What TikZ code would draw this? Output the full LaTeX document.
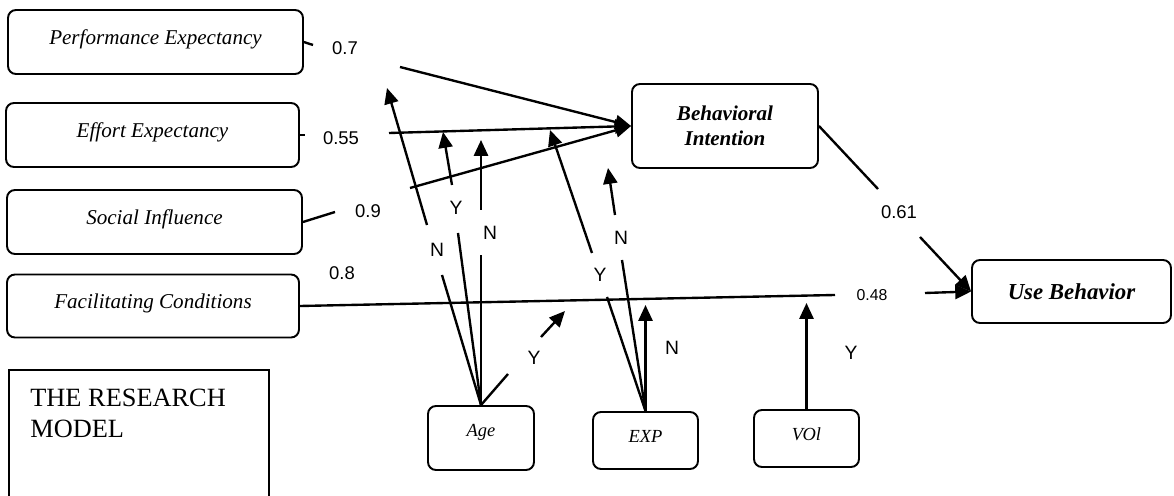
\documentclass[tikz,border=0pt]{standalone}
\usepackage{fontspec}
\setmainfont{Liberation Serif}
\newfontfamily\arialfont{Liberation Sans}
\usetikzlibrary{arrows.meta}
\tikzset{
    box/.style={draw, line width=1.1pt, rounded corners=4.5pt, align=center, inner sep=2pt},
    cbox/.style={box, minimum height=1.28cm, text height=8.5pt, text depth=5.6pt, font=\itshape\fontsize{12}{14}\selectfont},
    mbox/.style={box, minimum width=2.1cm, minimum height=1.14cm, text height=7.5pt, text depth=5pt, font=\itshape\fontsize{10.5}{12}\selectfont},
    lnk/.style={line width=1.35pt},
    arr/.style={lnk, -{Triangle[length=9pt,width=8pt]}},
    yn/.style={font=\arialfont\fontsize{11}{13}\selectfont, inner sep=0pt},
    wt/.style={font=\arialfont\fontsize{10.5}{12}\selectfont, inner sep=0pt},
}
\begin{document}
\begin{tikzpicture}[x=0.02cm, y=-0.02cm]
        \useasboundingbox (0, 0) rectangle (1174, 496);

        \node[cbox, minimum width=5.9cm] (pe) at (155.5, 42) {Performance Expectancy};
        \node[cbox, minimum width=5.86cm] (ee) at (152.5, 135) {Effort Expectancy};
        \node[cbox, minimum width=5.9cm] (si) at (154.5, 222) {Social Influence};
        \node[cbox, minimum width=5.84cm, minimum height=1.26cm] (fc) at (153, 306) {Facilitating Conditions};
        \node[box, minimum width=3.72cm, minimum height=1.68cm, font=\bfseries\itshape\fontsize{12}{14}\selectfont] (bi) at (725, 126) {Behavioral\\Intention};
        \node[box, minimum width=3.98cm, minimum height=1.26cm, font=\bfseries\itshape\fontsize{13}{15}\selectfont] (ub) at (1071.5, 291.5) {Use Behavior};
        \node[mbox, minimum width=2.12cm, minimum height=1.28cm, text depth=9pt] (age) at (481, 438) {Age};
        \node[mbox] (exp) at (645.5, 440.5) {EXP};
        \node[mbox] (vol) at (806.5, 438.5) {VOl};
        \node[draw, line width=1.1pt, minimum width=5.2cm, minimum height=2.8cm, anchor=north west] (model) at (8, 369) {};
        \node[anchor=north west, align=left, inner sep=0pt, font=\fontsize{15}{17.6}\selectfont] (modeltxt) at (30, 389) {THE RESEARCH\\MODEL};

        \coordinate (pe1) at (313, 45);
        \coordinate (pe2) at (400, 67);
        \coordinate (ee1) at (305, 135);
        \coordinate (ee2) at (389, 133);
        \coordinate (si1) at (335, 212);
        \coordinate (si2) at (410, 188);
        \coordinate (fc1) at (835, 295);
        \coordinate (fc2) at (925, 293);
        \coordinate (bi1) at (878, 189);
        \coordinate (bi2) at (920, 237);

        \draw[lnk] (pe.east) -- (pe1);
        \draw[arr] (pe2) -- (bi.west);
        \draw[lnk] (ee.east) -- (ee1);
        \draw[arr] (ee2) -- (bi.west);
        \draw[lnk] (si.east) -- (si1);
        \draw[arr] (si2) -- (bi.west);
        \draw[lnk] (fc.east) -- (fc1);
        \draw[arr] (fc2) -- (ub.west);
        \draw[lnk] (bi.east) -- (bi1);
        \draw[arr] (bi2) -- (ub.west);

        \node[wt] (w07) at (345, 48) {0.7};
        \node[wt] (w055) at (341, 138) {0.55};
        \node[wt] (w09) at (368, 211) {0.9};
        \node[wt] (w08) at (342, 273) {0.8};
        \node[wt, font=\arialfont\fontsize{9}{11}\selectfont] (w048) at (872, 295) {0.48};
        \node[wt] (w061) at (899, 212) {0.61};

        \coordinate (a1) at (442, 275);
        \coordinate (a1b) at (427, 225);
        \coordinate (a1t) at (387, 88);
        \coordinate (a2) at (458, 233);
        \coordinate (a2b) at (452, 185);
        \coordinate (a2t) at (443, 132);
        \coordinate (a3) at (481, 255);
        \coordinate (a3b) at (481, 210);
        \coordinate (a3t) at (481, 140);
        \coordinate (a4) at (508, 374);
        \coordinate (a4b) at (541, 337);
        \coordinate (a4t) at (565, 311);
        \coordinate (e1) at (607, 297);
        \coordinate (e1b) at (592, 253);
        \coordinate (e1t) at (550, 130);
        \coordinate (e2) at (622, 260);
        \coordinate (e2b) at (615, 215);
        \coordinate (e2t) at (608, 168);
        \coordinate (e3t) at (645.5, 305);
        \coordinate (v1t) at (806.5, 303);

        \draw[lnk] (age.north) -- (a1);
        \draw[arr] (a1b) -- (a1t);
        \draw[lnk] (age.north) -- (a2);
        \draw[arr] (a2b) -- (a2t);
        \draw[lnk] (age.north) -- (a3);
        \draw[arr] (a3b) -- (a3t);
        \draw[lnk] (age.north) -- (a4);
        \draw[arr] (a4b) -- (a4t);
        \draw[lnk] (exp.north) -- (e1);
        \draw[arr] (e1b) -- (e1t);
        \draw[lnk] (exp.north) -- (e2);
        \draw[arr] (e2b) -- (e2t);
        \draw[arr] (exp.north) -- (e3t);
        \draw[arr] (vol.north) -- (v1t);

        \node[yn] (ya1) at (437, 250) {N};
        \node[yn] (ya2) at (456, 208) {Y};
        \node[yn] (ya3) at (490, 233) {N};
        \node[yn] (ya4) at (534, 358) {Y};
        \node[yn] (ye1) at (600, 275) {Y};
        \node[yn] (ye2) at (621, 238) {N};
        \node[yn] (ye3) at (672, 348) {N};
        \node[yn] (yv1) at (851, 353) {Y};
\end{tikzpicture}
\end{document}
